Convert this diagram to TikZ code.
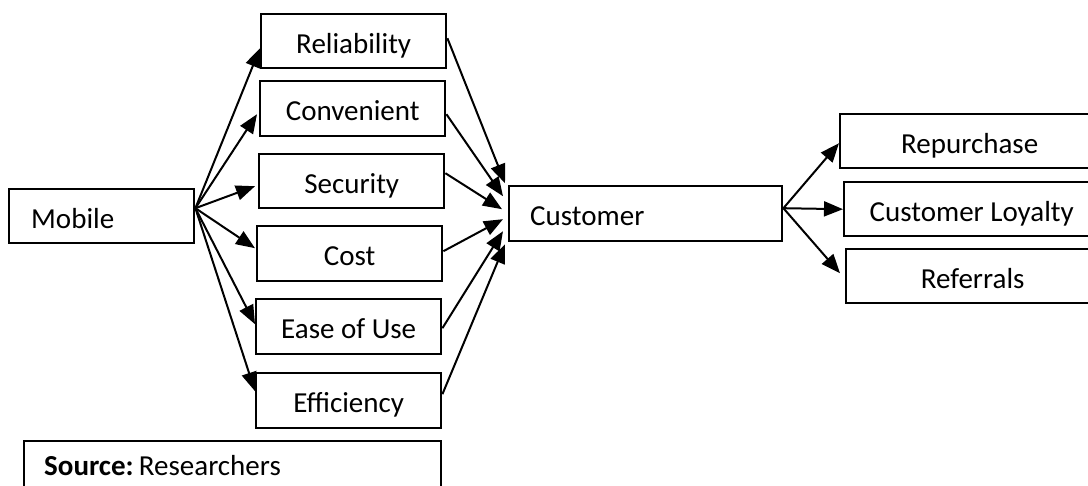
\documentclass[tikz,border=0pt]{standalone}
\usepackage{fontspec}
\setmainfont{Carlito}
\usetikzlibrary{arrows.meta}
\tikzset{
  box/.style={draw, line width=2.4pt, anchor=north west, inner sep=0pt,
    minimum height=54pt, text height=24pt, text depth=0pt},
  leftbox/.style={box, align=left},
  link/.style={line width=2pt, -{Triangle[length=19pt,width=15pt]}}
}
\begin{document}
\begin{tikzpicture}[x=1pt, y=-1pt, font=\fontsize{29}{34}\selectfont]
\useasboundingbox (0,0) rectangle (1088,486);
\clip (0,0) rectangle (1088,486);

% source and factor boxes
\node[leftbox, minimum width=185pt, inner xsep=22pt, text width=141pt] (mob) at (8,188) {Mobile};
\node[box, minimum width=185pt] (rel) at (260,13) {Reliability};
\node[box, minimum width=185pt, minimum height=55pt] (con) at (259,80) {Convenient};
\node[box, minimum width=185pt] (sec) at (258,153) {Security};
\node[box, minimum width=185pt, minimum height=55pt] (cost) at (256,225) {Cost};
\node[box, minimum width=185pt, minimum height=55pt] (ease) at (255,298) {Ease of Use};
\node[box, minimum width=185pt, minimum height=55pt] (eff) at (255,372) {Efficiency};

% central box
\node[leftbox, minimum width=273pt, minimum height=55pt, inner xsep=21pt, text width=231pt] (cus) at (508,185) {Customer};

% outcome boxes
\node[box, minimum width=259pt] (rep) at (839,113) {Repurchase};
\node[box, minimum width=255pt] (loy) at (843,181) {Customer Loyalty};
\node[box, minimum width=253pt] (ref) at (845,248) {Referrals};

% source note
\node[leftbox, minimum width=417pt, inner xsep=20pt, text width=377pt, text depth=10pt] (src) at (23,440) {\textbf{Source:}\hspace{0.18em}Researchers};

% Mobile to factors
\draw[link] ([yshift=8pt]mob.east) -- ([yshift=-7pt]rel.west);
\draw[link] ([yshift=8pt]mob.east) -- ([xshift=-2pt,yshift=-5.5pt]con.west);
\draw[link] ([yshift=8pt]mob.east) -- ([xshift=-3pt,yshift=-5pt]sec.west);
\draw[link] ([yshift=8pt]mob.east) -- ([xshift=-1pt,yshift=5.5pt]cost.west);
\draw[link] ([yshift=8pt]mob.east) -- ([yshift=2.5pt]ease.west);
\draw[link] ([yshift=8pt]mob.east) -- ([yshift=9.5pt]eff.west);

% factors to Customer
\draw[link] ([yshift=3pt]rel.east) -- ([xshift=-3pt,yshift=30.5pt]cus.west);
\draw[link] ([yshift=-5.5pt]con.east) -- ([xshift=-5pt,yshift=17.5pt]cus.west);
\draw[link] ([yshift=8pt]sec.east) -- ([xshift=-6pt,yshift=4.5pt]cus.west);
\draw[link] ([yshift=2.5pt]cost.east) -- ([xshift=-5pt,yshift=-5.5pt]cus.west);
\draw[link] ([yshift=-1.5pt]ease.east) -- ([xshift=-5pt,yshift=-17.5pt]cus.west);
\draw[link] ([yshift=6.5pt]eff.east) -- ([xshift=-3pt,yshift=-30.5pt]cus.west);

% Customer to outcomes
\draw[link] ([yshift=5.5pt]cus.east) -- ([yshift=-2pt]rep.west);
\draw[link] ([yshift=5.5pt]cus.east) -- (loy.west);
\draw[link] ([yshift=5.5pt]cus.east) -- ([xshift=-5pt,yshift=3pt]ref.west);
\end{tikzpicture}
\end{document}
